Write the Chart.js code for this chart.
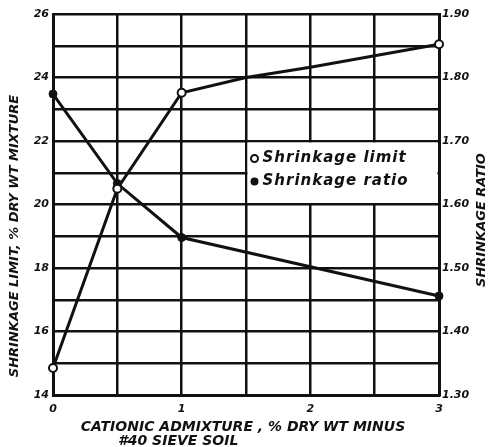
<!DOCTYPE html>
<html>
<head>
<meta charset="utf-8">
<script src="https://cdn.jsdelivr.net/npm/chart.js@4"></script>
<style>
    html, body { margin: 0; padding: 0; background: #fff; }
    #wrap { width: 489px; height: 447px; }
</style>
</head>
<body>
<div id="wrap"><canvas id="shrinkChart"></canvas></div>
<script>
// shrinkage limit (left axis) - extra x=1.5 and 2 are read off the curve, no marker
const limitX = [0, 0.5, 1, 1.5, 2, 3];
const limitValues = [14.85, 20.5, 23.52, 24.0, 24.32, 25.05];
const limitMarkedX = [0, 0.5, 1, 3];

// shrinkage ratio (right axis)
const ratioX = [0, 0.5, 1, 3];
const ratioValues = [1.774, 1.633, 1.548, 1.456];

const xTickLabels = [0, 1, 2, 3];
const leftTickLabels = [14, 16, 18, 20, 22, 24, 26];

const fontFamily = '"DejaVu Sans", sans-serif';
const ink = '#111';

// white legend box over the grid
const legendBox = {
    id: 'legendBox',
    beforeDatasetsDraw(chart) {
        const ctx = chart.ctx;
        const x = chart.scales.x;
        const y1 = chart.scales.y1;
        const l = x.getPixelForValue(1.5) + 1.5;
        const r = x.getPixelForValue(3) - 1.5;
        const t = y1.getPixelForValue(1.70) + 1.5;
        const b = y1.getPixelForValue(1.60) - 1.5;
        ctx.save();
        ctx.fillStyle = '#fff';
        ctx.fillRect(l, t, r - l, b - t);

        ctx.fillStyle = ink;
        ctx.strokeStyle = ink;
        ctx.lineWidth = 2;
        ctx.font = 'italic bold 15px ' + fontFamily;
        ctx.letterSpacing = '1px';
        ctx.textBaseline = 'middle';

        ctx.beginPath();
        ctx.arc(l + 7, t + 16, 3.5, 0, Math.PI * 2);
        ctx.stroke();
        ctx.fillText('Shrinkage limit', l + 15, t + 16);

        ctx.beginPath();
        ctx.arc(l + 7, t + 39, 4, 0, Math.PI * 2);
        ctx.fill();
        ctx.fillText('Shrinkage ratio', l + 15, t + 39);
        ctx.restore();
    }
};

// axis titles, placed as on the original sheet
const axisTitles = {
    id: 'axisTitles',
    afterDraw(chart) {
        const ctx = chart.ctx;
        ctx.save();
        ctx.fillStyle = ink;
        ctx.textBaseline = 'middle';

        ctx.font = 'italic bold 13px ' + fontFamily;
        ctx.textAlign = 'center';
        ctx.translate(15, 236);
        ctx.rotate(-Math.PI / 2);
        ctx.fillText('SHRINKAGE LIMIT, % DRY WT MIXTURE', 0, 0);
        ctx.setTransform(1, 0, 0, 1, 0, 0);

        ctx.translate(482, 220);
        ctx.rotate(-Math.PI / 2);
        ctx.fillText('SHRINKAGE RATIO', 0, 0);
        ctx.setTransform(1, 0, 0, 1, 0, 0);

        ctx.font = 'italic bold 14px ' + fontFamily;
        ctx.fillText('CATIONIC ADMIXTURE , % DRY WT MINUS', 243, 427);
        ctx.textAlign = 'left';
        ctx.fillText('#40 SIEVE SOIL', 118, 441);
        ctx.restore();
    }
};

const tickFont = { family: fontFamily, size: 11, weight: 'bold', style: 'italic' };

const shrinkConfig = {
    type: 'line',
    data: {
        datasets: [{
            label: 'Shrinkage limit',
            data: limitX.map((x, i) => ({ x: x, y: limitValues[i] })),
            yAxisID: 'y',
            borderColor: ink,
            borderWidth: 3,
            pointRadius: ctx => limitMarkedX.includes(ctx.raw.x) ? 4 : 0,
            pointBackgroundColor: '#fff',
            pointBorderColor: ink,
            pointBorderWidth: 2,
            tension: 0,
            clip: false
        }, {
            label: 'Shrinkage ratio',
            data: ratioX.map((x, i) => ({ x: x, y: ratioValues[i] })),
            yAxisID: 'y1',
            borderColor: ink,
            borderWidth: 3,
            pointRadius: 4,
            pointBackgroundColor: ink,
            pointBorderColor: ink,
            pointBorderWidth: 1,
            tension: 0,
            clip: false
        }]
    },
    options: {
        responsive: true,
        maintainAspectRatio: false,
        animation: false,
        layout: { padding: { top: 14 } },
        plugins: {
            legend: { display: false },
            tooltip: { enabled: false }
        },
        scales: {
            x: {
                type: 'linear',
                min: 0,
                max: 3,
                afterFit: s => { s.height = 52; },
                ticks: {
                    stepSize: 0.5,
                    color: ink,
                    font: tickFont,
                    padding: 8,
                    maxRotation: 0,
                    callback: v => xTickLabels.includes(v) ? String(v) : ''
                },
                grid: { color: ink, lineWidth: 2.5, drawTicks: false },
                border: { color: ink, width: 3 }
            },
            y: {
                position: 'left',
                min: 14,
                max: 26,
                afterFit: s => { s.width = 53; },
                ticks: {
                    stepSize: 1,
                    color: ink,
                    font: tickFont,
                    padding: 4,
                    callback: v => leftTickLabels.includes(v) ? String(v) : ''
                },
                grid: { color: ink, lineWidth: 2.5, drawTicks: false },
                border: { color: ink, width: 3 }
            },
            y1: {
                position: 'right',
                min: 1.3,
                max: 1.9,
                afterFit: s => { s.width = 50; },
                ticks: {
                    stepSize: 0.1,
                    color: ink,
                    font: tickFont,
                    padding: 3,
                    callback: v => v.toFixed(2)
                },
                grid: { drawOnChartArea: false, drawTicks: false },
                border: { color: ink, width: 3 }
            }
        }
    },
    plugins: [legendBox, axisTitles]
};

const shrinkChart = new Chart(
    document.getElementById('shrinkChart'),
    shrinkConfig
);
</script>
</body>
</html>
